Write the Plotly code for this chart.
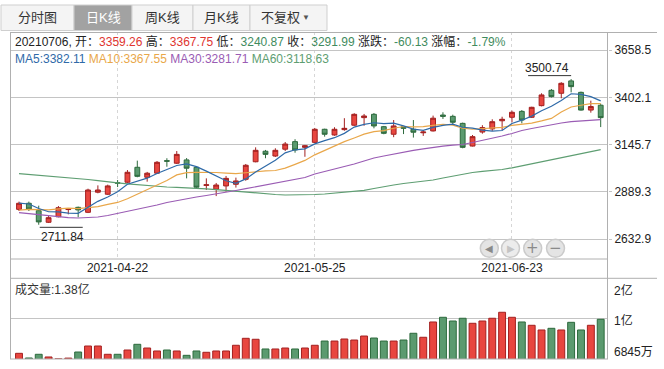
import plotly.graph_objects as go
import pandas as pd

# ---------------- data ----------------
dates = ["2021-04-08", "2021-04-09", "2021-04-12", "2021-04-13", "2021-04-14", "2021-04-15", "2021-04-16",
         "2021-04-19", "2021-04-20", "2021-04-21", "2021-04-22", "2021-04-23", "2021-04-26", "2021-04-27",
         "2021-04-28", "2021-04-29", "2021-04-30",
         "2021-05-06", "2021-05-07", "2021-05-10", "2021-05-11", "2021-05-12", "2021-05-13", "2021-05-14",
         "2021-05-17", "2021-05-18", "2021-05-19", "2021-05-20", "2021-05-21", "2021-05-24", "2021-05-25",
         "2021-05-26", "2021-05-27", "2021-05-28", "2021-05-31",
         "2021-06-01", "2021-06-02", "2021-06-03", "2021-06-04", "2021-06-07", "2021-06-08", "2021-06-09",
         "2021-06-10", "2021-06-11", "2021-06-15", "2021-06-16", "2021-06-17", "2021-06-18", "2021-06-21",
         "2021-06-22", "2021-06-23", "2021-06-24", "2021-06-25", "2021-06-28", "2021-06-29", "2021-06-30",
         "2021-07-01", "2021-07-02", "2021-07-05", "2021-07-06"]

opens = [2795, 2828, 2788, 2725, 2755, 2794, 2806, 2779, 2888, 2877,
         2940, 2942, 3023, 2969, 2991, 3059, 3045, 3063, 3023, 2925,
         2904, 2922, 2931, 2958, 3053, 3110, 3084, 3121, 3162, 3131,
         3158, 3229, 3198, 3227, 3251, 3292, 3310, 3243, 3202, 3243,
         3229, 3210, 3220, 3306, 3299, 3261, 3138, 3214, 3231, 3275,
         3294, 3326, 3294, 3357, 3440, 3424, 3491, 3429, 3333, 3359.26]
highs = [2837, 2837, 2815, 2759, 2813, 2798, 2810, 2907, 2925, 2929,
         2954, 3008, 3059, 2998, 3057, 3072, 3111, 3073, 3030, 2963,
         2938, 2976, 2967, 3041, 3131, 3117, 3126, 3160, 3175, 3144,
         3236, 3232, 3240, 3289, 3316, 3312, 3317, 3247, 3279, 3247,
         3279, 3225, 3303, 3321, 3308, 3265, 3198, 3251, 3283, 3297,
         3330, 3333, 3351, 3424, 3447, 3484, 3500.74, 3433, 3384, 3367.75]
lows = [2786, 2786, 2711.84, 2721, 2752, 2768, 2752, 2775, 2882, 2873,
        2916, 2938, 2969, 2945, 2987, 3026, 3041, 2963, 2911, 2900,
        2867, 2891, 2913, 2950, 3050, 3072, 3079, 3111, 3102, 3080,
        3155, 3189, 3194, 3221, 3247, 3248, 3234, 3202, 3186, 3203,
        3184, 3193, 3217, 3285, 3252, 3126, 3136, 3205, 3220, 3225,
        3267, 3261, 3290, 3353, 3401, 3397, 3429, 3330, 3319, 3240.87]
closes = [2828, 2797, 2727, 2750, 2804, 2796, 2792, 2900, 2900, 2922,
          2937, 2996, 2974, 2991, 3050, 3056, 3093, 3018, 2915, 2928,
          2927, 2963, 2949, 3034, 3115, 3093, 3115, 3149, 3117, 3140,
          3229, 3202, 3229, 3234, 3310, 3301, 3247, 3207, 3247, 3234,
          3213, 3214, 3289, 3299, 3267, 3131, 3189, 3238, 3270, 3283,
          3321, 3279, 3348, 3415, 3406, 3478, 3460, 3333, 3352.12, 3291.99]
# closes of the nine sessions before the window (estimated from where MA5/MA10 start)
prior_closes = [2755, 2748, 2760, 2752, 2750, 2822, 2847, 2840, 2808]

# volume, in 亿
volumes = [0.784, 0.702, 0.767, 0.72, 0.688, 0.70, 0.807, 0.912, 0.912, 0.767,
           0.767, 0.842, 0.942, 0.877, 0.825, 0.842, 0.825, 0.749, 0.825, 0.802,
           0.825, 0.825, 0.925, 1.047, 1.03, 0.86, 0.86, 0.877, 0.86, 0.877,
           0.925, 0.999, 0.999, 1.035, 1.017, 1.087, 1.052, 0.999, 0.999, 1.017,
           1.135, 1.065, 1.333, 1.415, 1.35, 1.398, 1.31, 1.35, 1.398, 1.503,
           1.415, 1.333, 1.275, 1.193, 1.222, 1.193, 1.327, 1.193, 1.275, 1.38]

ma30 = [2777, 2771.6, 2764.5, 2759.1, 2753.7, 2749.9, 2748.3, 2749.4, 2753.7, 2761.8,
        2772.7, 2783.5, 2794.3, 2807.9, 2818.7, 2832.3, 2843.1, 2852.8, 2862.1, 2870.2,
        2878.3, 2888.1, 2897.3, 2907, 2917.3, 2927.1, 2936.3, 2946, 2956.9, 2967.7,
        2986.7, 3000.2, 3011.1, 3024.6, 3040.8, 3057.1, 3073.4, 3084.2, 3095, 3105.9,
        3115.1, 3123.2, 3131.3, 3137.3, 3142.7, 3146.5, 3157.3, 3168.2, 3179, 3192.5,
        3206.1, 3222.4, 3233.2, 3244, 3254.9, 3263, 3270, 3274.9, 3279.2, 3281.71]
ma60 = [2988.3, 2984, 2979.6, 2975.8, 2971.5, 2967.7, 2963.4, 2956.9, 2950.4, 2943.3,
        2939, 2933.6, 2928.7, 2924.4, 2920, 2916.2, 2914.6, 2913, 2911.9, 2906.5,
        2902.1, 2897.3, 2891.9, 2886.4, 2882.1, 2878.3, 2875.6, 2872.9, 2872.9, 2872.9,
        2875.6, 2878.3, 2882.6, 2886.4, 2891.9, 2898.4, 2908.1, 2918.9, 2927.1, 2935.2,
        2941.7, 2948.7, 2954.2, 2965, 2975.8, 2986.7, 2994.8, 3001.3, 3005.6, 3011.1,
        3020.3, 3031.1, 3042.5, 3053.3, 3063.6, 3074.5, 3085.3, 3097.7, 3108.6, 3118.63]

price_ticks = [2632.9, 2889.3, 3145.7, 3402.1, 3658.5]
date_ticks = ["2021-04-22", "2021-05-25", "2021-06-23"]
vol_labels = ["2亿", "1亿", "6845万"]
tabs = ["分时图", "日K线", "周K线", "月K线", "不复权"]
header_date = "20210706"
header_vals = {"开": "3359.26", "高": "3367.75", "低": "3240.87", "收": "3291.99",
               "涨跌": "-60.13", "涨幅": "-1.79%"}
ma_text = {"MA5": "3382.11", "MA10": "3367.55", "MA30": "3281.71", "MA60": "3118.63"}
vol_text = "成交量:1.38亿"

# --------------- derived ---------------
allc = pd.Series(prior_closes + closes)
ma5 = allc.rolling(5).mean().iloc[len(prior_closes):].tolist()
ma10 = allc.rolling(10).mean().iloc[len(prior_closes):].tolist()

# --------------- styles / layout helpers ---------------
W, H = 664, 369
ML, MR, MT, MB = 10, 56, 32, 10
PW, PH = W - ML - MR, H - MT - MB


def px(x):
    return (x - ML) / PW


def py(y):
    return (H - MB - y) / PH


RED, RED_D = "#e8463f", "#a32020"
GRN, GRN_D = "#5b9a6f", "#2d6a3d"
C_MA5, C_MA10, C_MA30, C_MA60 = "#2f6aa8", "#e9a74a", "#9a5cb4", "#5e9e72"
GRID = "#c4c4c4"
FRAME = "#b0b0b0"
FONT = "Liberation Sans, Noto Sans CJK SC, sans-serif"

price_range = [2526.1, 3756.0]
vol_range = [0.6845, 2.098]

fig = go.Figure()

fig.add_trace(go.Candlestick(
    x=dates, open=opens, high=highs, low=lows, close=closes,
    increasing=dict(fillcolor=RED, line=dict(color=RED_D, width=1)),
    decreasing=dict(fillcolor=GRN, line=dict(color=GRN_D, width=1)),
    whiskerwidth=0, showlegend=False, hoverinfo="skip", xaxis="x", yaxis="y"))

for vals, col in [(ma60, C_MA60), (ma30, C_MA30), (ma10, C_MA10), (ma5, C_MA5)]:
    fig.add_trace(go.Scatter(x=dates, y=vals, mode="lines", line=dict(color=col, width=1.2),
                             showlegend=False, hoverinfo="skip", xaxis="x", yaxis="y"))

up = [c >= o for o, c in zip(opens, closes)]
fig.add_trace(go.Bar(
    x=dates, y=volumes,
    marker=dict(color=[RED if u else GRN for u in up],
                line=dict(color=[RED_D if u else GRN_D for u in up], width=1)),
    showlegend=False, hoverinfo="skip", xaxis="x2", yaxis="y2"))

xr = [-0.913, len(dates) - 1 + 0.74]
fig.update_layout(
    width=W, height=H, margin=dict(l=ML, r=MR, t=MT, b=MB, autoexpand=False),
    paper_bgcolor="white", plot_bgcolor="white", bargap=0.3,
    font=dict(family=FONT, size=12, color="#222"),
    hovermode=False, dragmode=False, showlegend=False,
    xaxis=dict(type="category", range=xr, anchor="y", domain=[0, 1],
               tickvals=date_ticks, ticktext=date_ticks, ticks="",
               showgrid=True, gridcolor="#d6d6d6", griddash="3px,3px", gridwidth=1,
               showline=False, zeroline=False, rangeslider=dict(visible=False),
               tickfont=dict(size=12, color="#222"), automargin=False),
    xaxis2=dict(type="category", matches="x", anchor="y2", showticklabels=False,
                showgrid=False, showline=False, zeroline=False, ticks="", automargin=False),
    yaxis=dict(domain=[py(259), 1], range=price_range, side="right", anchor="x",
               tickvals=price_ticks, ticktext=[f"{v:.1f}" for v in price_ticks],
               showgrid=True, gridcolor=GRID, gridwidth=1, zeroline=False, showline=False,
               ticks="outside", ticklen=3, tickcolor=GRID, tickfont=dict(size=12, color="#222"),
               automargin=False),
    yaxis2=dict(domain=[0, py(278.3)], range=vol_range, side="right", anchor="x2",
                tickvals=[(vol_range[0] + vol_range[1]) / 2], showticklabels=False,
                showgrid=True, gridcolor=GRID, gridwidth=1, zeroline=False, showline=False,
                ticks="", automargin=False),
)

shapes = []
annos = []


def hline(y, x0, x1, color=FRAME):
    shapes.append(dict(type="line", xref="paper", yref="paper", x0=px(x0), x1=px(x1),
                       y0=py(y), y1=py(y), line=dict(color=color, width=1), layer="above"))


def vline(x, y0, y1, color=FRAME):
    shapes.append(dict(type="line", xref="paper", yref="paper", x0=px(x), x1=px(x),
                       y0=py(y0), y1=py(y1), line=dict(color=color, width=1), layer="above"))


# frame
hline(32.5, 10, 657)
hline(259, 10, 608)
hline(278.3, 10, 657)
hline(359, 10, 608)
vline(10.5, 32, 359)
vline(607.5, 32, 359)

# tabs
tab_edges = [1, 74, 132, 193, 250, 327]
for i, name in enumerate(tabs):
    x0, x1 = tab_edges[i], tab_edges[i + 1]
    active = (i == 1)
    shapes.append(dict(type="rect", xref="paper", yref="paper", x0=px(x0), x1=px(x1),
                       y0=py(30.5), y1=py(5), fillcolor="#a2a2a2" if active else "#f4f4f4",
                       line=dict(color="#cfcfcf", width=1), layer="above"))
    cx = (x0 + x1) / 2 if i < 4 else 280
    annos.append(dict(text=name, x=px(cx), y=py(18), xref="paper", yref="paper",
                      showarrow=False, xanchor="center", yanchor="middle",
                      font=dict(size=13, color="white" if active else "#333")))
annos.append(dict(text="▼", x=px(306), y=py(18), xref="paper", yref="paper", showarrow=False,
                  xanchor="center", yanchor="middle", font=dict(size=8, color="#555")))

# header line
red_s = "<span style='color:#e0352f'>{}</span>"
grn_s = "<span style='color:#3f8b5e'>{}</span>"
hv = header_vals
header = (f"{header_date}, 开：{red_s.format(hv['开'])} 高：{red_s.format(hv['高'])} "
          f"低：{grn_s.format(hv['低'])} 收：{grn_s.format(hv['收'])} "
          f"涨跌：{grn_s.format(hv['涨跌'])} 涨幅：{grn_s.format(hv['涨幅'])}")
annos.append(dict(text=header, x=px(13), y=py(42), xref="paper", yref="paper", showarrow=False,
                  xanchor="left", yanchor="middle", font=dict(size=12, color="#222")))

ma_cols = {"MA5": C_MA5, "MA10": C_MA10, "MA30": C_MA30, "MA60": C_MA60}
ma_line = " ".join(f"<span style='color:{ma_cols[k]}'>{k}:{v}</span>" for k, v in ma_text.items())
annos.append(dict(text=ma_line, x=px(13), y=py(59), xref="paper", yref="paper", showarrow=False,
                  xanchor="left", yanchor="middle", font=dict(size=12)))

annos.append(dict(text=vol_text, x=px(13), y=py(289), xref="paper", yref="paper", showarrow=False,
                  xanchor="left", yanchor="middle", font=dict(size=12, color="#333")))

# volume axis labels
for txt, yy in zip(vol_labels, [290, 320, 352]):
    annos.append(dict(text=txt, x=px(612), y=py(yy), xref="paper", yref="paper", showarrow=False,
                      xanchor="left", yanchor="middle", font=dict(size=12, color="#222")))

# extreme labels
i_hi = highs.index(max(highs))
i_lo = lows.index(min(lows))
annos.append(dict(text=f"{highs[i_hi]:.2f}", x=dates[i_hi], y=highs[i_hi], xref="x", yref="y",
                  showarrow=False, xanchor="right", yanchor="bottom", yshift=2,
                  font=dict(size=12, color="#222")))
annos.append(dict(text=f"{lows[i_lo]:.2f}", x=dates[i_lo], y=lows[i_lo], xref="x", yref="y",
                  showarrow=False, xanchor="left", yanchor="top", yshift=-3, xshift=0,
                  font=dict(size=12, color="#222")))
shapes.append(dict(type="line", xref="x", yref="y", xsizemode="pixel", ysizemode="pixel",
                   xanchor=dates[i_hi], x0=-43, x1=0, yanchor=highs[i_hi], y0=3.5, y1=3.5,
                   line=dict(color="#333", width=1)))
shapes.append(dict(type="line", xref="x", yref="y", xsizemode="pixel", ysizemode="pixel",
                   xanchor=dates[i_lo], x0=1, x1=44, yanchor=lows[i_lo], y0=-2.6, y1=-2.6,
                   line=dict(color="#333", width=1)))

# navigation buttons
btns = [("◀", "#8a8a8a"), ("▶", "#c4c4c4"), ("+", "#8a8a8a"), ("−", "#8a8a8a")]
for (g, col), cx in zip(btns, [489.3, 510.5, 532.7, 555.5]):
    cy, r = 248.3, 9
    shapes.append(dict(type="circle", xref="paper", yref="paper", x0=px(cx - r), x1=px(cx + r),
                       y0=py(cy + r), y1=py(cy - r), fillcolor="#e4e4e4" if col != "#c4c4c4" else "#ececec",
                       line=dict(color="#cbcbcb", width=1.5), layer="above"))
    annos.append(dict(text=g, x=px(cx), y=py(cy), xref="paper", yref="paper", showarrow=False,
                      xanchor="center", yanchor="middle",
                      font=dict(size=10 if g in "◀▶" else 15, color=col, family="DejaVu Sans")))

fig.update_layout(shapes=shapes, annotations=annos)
fig.write_html("out.html", config={"displayModeBar": False},
               post_script="document.body.style.margin='0px';")
